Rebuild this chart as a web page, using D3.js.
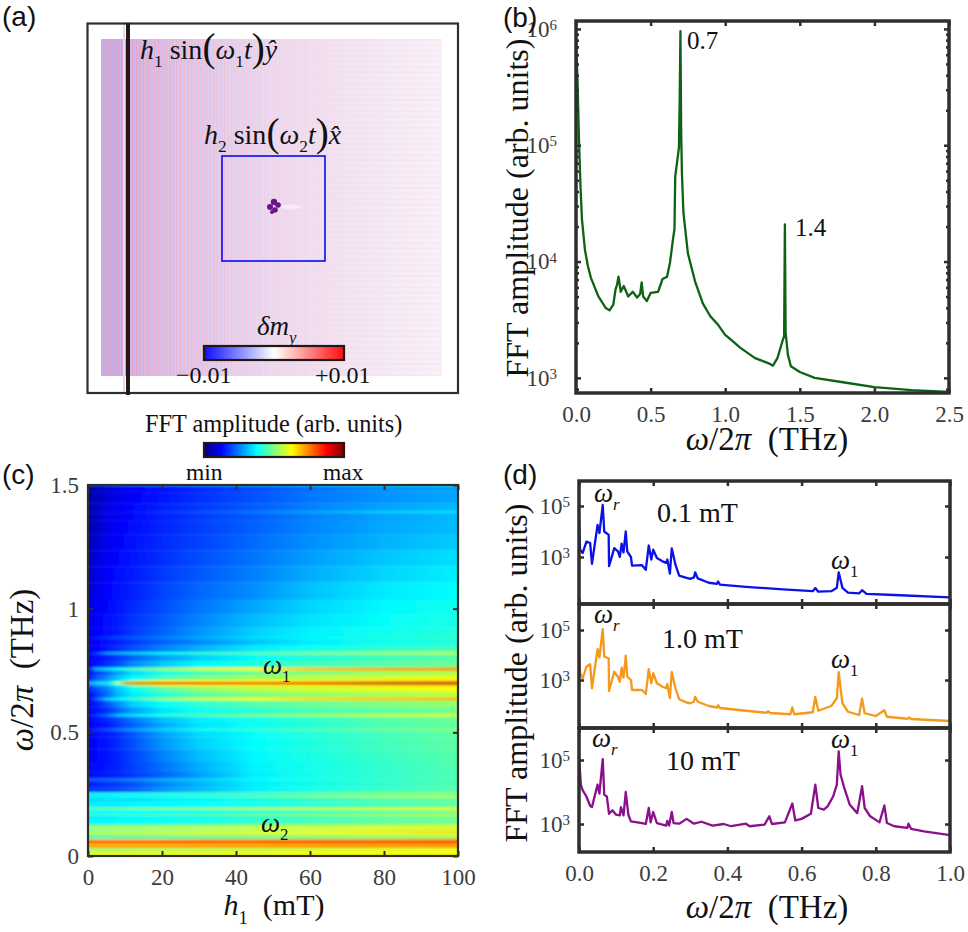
<!DOCTYPE html>
<html>
<head>
<meta charset="utf-8">
<script src="https://cdn.jsdelivr.net/npm/d3@7"></script>
<style>
  html, body { margin: 0; padding: 0; background: #fff; }
  svg { display: block; }
  text { font-family: "Liberation Serif", serif; fill: #111; }
  .tick text { fill: #3c3c3c; }
  .panel-label { font-family: "Liberation Sans", sans-serif; font-size: 28px; }
</style>
</head>
<body>
<svg id="chart" width="968" height="932"></svg>
<script>
// panel (b): spectrum, amplitude kept as log10
var bFreq = [0,0.01,0.02,0.03,0.04,0.06,0.08,0.1,0.15,0.2,0.225,0.25,0.265,0.275,0.285,0.3,0.32,0.35,0.38,0.41,0.43,0.44,0.45,0.475,0.5,0.55,0.58,0.61,0.63,0.65,0.66,0.665,0.68,0.69,0.695,0.7,0.705,0.71,0.72,0.75,0.8,0.85,0.9,0.95,1,1.05,1.1,1.2,1.3,1.32,1.35,1.38,1.395,1.4,1.405,1.42,1.44,1.5,1.6,1.8,2,2.25,2.5];
var bLogAmp = [5.91,5.56,5.05,4.65,4.36,4.1,3.96,3.86,3.7,3.6,3.58,3.63,3.76,3.8,3.87,3.74,3.79,3.7,3.74,3.69,3.72,3.82,3.7,3.66,3.73,3.74,3.85,3.87,3.99,4.19,4.28,4.73,4.88,4.98,5.39,5.98,5.1,4.76,4.42,4.07,3.82,3.64,3.53,3.46,3.37,3.315,3.26,3.17,3.12,3.105,3.17,3.3,3.36,4.32,3.39,3.2,3.1,3.05,3,2.96,2.92,2.895,2.88];

// panel (d): three drive strengths, amplitude kept as log10
var dFreqLow = [0,0.003,0.01,0.02,0.03,0.035,0.05,0.055,0.064,0.068,0.08,0.081,0.095,0.105,0.11,0.115,0.12,0.126,0.13,0.14,0.143,0.17,0.18,0.188,0.195,0.2,0.21,0.225,0.235,0.238,0.245,0.25,0.26,0.27,0.29,0.3,0.31,0.313,0.32,0.35,0.372,0.375,0.38,0.45,0.55,0.63,0.637,0.645,0.68,0.695,0.7,0.71,0.725,0.755,0.763,0.775,0.85,1];
var dLogAmpLow = [4.45,3.29,3.16,3.6,3.55,2.73,4.26,3.94,5.04,4,3.87,2.64,3.35,3.22,3,3.52,3.18,4,3.22,3,2.66,2.68,2.5,3.45,2.9,3.29,2.96,2.83,2.77,2.9,2.35,3.34,2.7,2.27,2.18,2.14,2.2,2.4,2.16,1.99,1.95,2.04,1.92,1.83,1.73,1.66,1.78,1.64,1.66,1.79,2.4,1.79,1.6,1.57,1.7,1.55,1.51,1.42];

var dFreqMid = [0,0.003,0.01,0.02,0.03,0.035,0.05,0.055,0.064,0.068,0.08,0.081,0.095,0.105,0.11,0.115,0.12,0.126,0.13,0.14,0.143,0.17,0.18,0.188,0.195,0.2,0.21,0.225,0.235,0.238,0.245,0.25,0.26,0.27,0.29,0.3,0.31,0.313,0.32,0.35,0.372,0.375,0.38,0.45,0.505,0.51,0.515,0.57,0.575,0.58,0.63,0.637,0.645,0.68,0.695,0.7,0.71,0.725,0.755,0.763,0.77,0.8,0.823,0.83,0.885,0.89,0.895,1];
var dLogAmpMid = [4.47,3.27,3.07,3.53,3.63,2.67,4.23,3.9,5.03,3.93,3.87,2.56,3.33,3.13,2.93,3.49,3.1,3.97,3.13,3,2.6,2.6,2.44,3.43,2.87,3.27,2.87,2.73,2.67,2.84,2.28,3.32,2.67,2.23,2.1,2.07,2.13,2.33,2.13,1.96,1.9,1.99,1.88,1.77,1.69,1.75,1.68,1.63,1.91,1.63,1.71,2.32,1.77,1.96,2.27,3.31,2.07,1.73,1.6,2.25,1.67,1.56,1.79,1.53,1.45,1.5,1.44,1.36];

var dFreqHigh = [0,0.005,0.01,0.02,0.03,0.035,0.05,0.055,0.064,0.068,0.075,0.081,0.09,0.1,0.11,0.113,0.12,0.126,0.133,0.14,0.17,0.18,0.188,0.193,0.2,0.21,0.225,0.235,0.238,0.243,0.25,0.255,0.27,0.29,0.31,0.33,0.36,0.39,0.41,0.45,0.46,0.5,0.513,0.52,0.555,0.575,0.583,0.6,0.625,0.637,0.645,0.66,0.67,0.685,0.695,0.7,0.705,0.715,0.73,0.75,0.763,0.77,0.785,0.81,0.823,0.83,0.85,0.885,0.888,0.895,0.93,1];
var dLogAmpHigh = [5.09,4.23,4.05,3.86,3.57,3.53,4.23,3.95,5.03,3.92,3.86,3.32,3.43,3.29,3.27,3.53,3.27,4,3.29,3.08,3.03,3,3.5,3.05,3.375,3.03,2.98,2.95,3.1,2.95,3.375,3.03,3.01,3.16,3.01,3.07,2.95,3,2.93,3.01,2.93,2.98,3.24,3,3.05,3.64,3.11,3.16,3.32,4.23,3.5,3.45,3.55,3.86,4.23,5.27,4.54,4.13,3.6,3.34,4.18,3.5,3.24,3.05,3.58,3.03,2.93,2.88,3.01,2.85,2.77,2.65];

// panel (c): colour position (0..1 on the jet bar) per frequency row and field column
var heatField = [0,2,5,8,12,20,30,45,60,80,100];
var heatFreq = [1.5,1.49,1.45,1.4,1.39,1.38,1.33,1.27,1.2,1.14,1.07,1,0.95,0.895,0.882,0.87,0.83,0.819,0.808,0.768,0.754,0.742,0.715,0.705,0.697,0.689,0.68,0.645,0.633,0.621,0.58,0.567,0.555,0.52,0.509,0.498,0.46,0.4,0.36,0.32,0.306,0.292,0.26,0.252,0.246,0.239,0.232,0.2,0.19,0.18,0.172,0.165,0.157,0.13,0.122,0.112,0.104,0.095,0.084,0.074,0.063,0.054,0.046,0.036,0.028,0.023,0.016,0.008,0];
var heatValues = [
  [.2,.2,.22,.24,.25,.27,.3,.33,.36,.38,.4],
  [.03,.05,.08,.1,.115,.14,.165,.2,.235,.265,.285],
  [.035,.055,.085,.105,.12,.145,.17,.205,.24,.27,.29],
  [.04,.06,.095,.115,.13,.155,.18,.215,.25,.285,.305],
  [.05,.07,.105,.125,.14,.17,.2,.245,.29,.33,.35],
  [.04,.06,.095,.115,.13,.155,.18,.215,.25,.285,.305],
  [.045,.065,.1,.12,.135,.16,.185,.22,.255,.29,.31],
  [.05,.075,.105,.125,.14,.165,.19,.23,.265,.3,.325],
  [.06,.085,.115,.13,.145,.17,.2,.24,.28,.32,.345],
  [.07,.095,.12,.135,.15,.18,.21,.25,.295,.335,.36],
  [.08,.105,.125,.14,.155,.19,.225,.265,.315,.355,.375],
  [.09,.115,.13,.145,.165,.2,.24,.29,.335,.37,.39],
  [.1,.12,.135,.15,.175,.21,.255,.31,.35,.38,.4],
  [.11,.12,.135,.15,.18,.22,.27,.33,.365,.39,.41],
  [.13,.15,.17,.19,.21,.25,.29,.34,.37,.4,.42],
  [.11,.125,.14,.155,.18,.22,.26,.32,.36,.39,.41],
  [.11,.125,.145,.17,.2,.25,.3,.36,.39,.42,.44],
  [.13,.17,.27,.3,.33,.37,.42,.46,.5,.54,.56],
  [.12,.135,.155,.18,.22,.28,.33,.38,.41,.44,.46],
  [.12,.14,.17,.2,.26,.32,.37,.41,.44,.46,.48],
  [.14,.29,.34,.38,.44,.52,.58,.63,.68,.71,.73],
  [.13,.18,.22,.28,.34,.39,.44,.48,.5,.53,.55],
  [.15,.2,.26,.32,.37,.45,.5,.54,.56,.59,.61],
  [.2,.27,.3,.37,.53,.64,.64,.64,.65,.68,.7],
  [.3,.34,.37,.6,.86,.9,.9,.9,.92,.95,.97],
  [.2,.26,.3,.37,.53,.64,.64,.64,.65,.68,.7],
  [.16,.2,.25,.32,.38,.46,.52,.56,.58,.6,.62],
  [.13,.17,.23,.3,.36,.41,.46,.5,.52,.54,.56],
  [.12,.21,.33,.37,.42,.52,.58,.62,.66,.68,.7],
  [.12,.15,.2,.26,.33,.38,.42,.46,.48,.5,.52],
  [.12,.14,.17,.22,.28,.35,.39,.42,.45,.47,.49],
  [.14,.18,.23,.31,.35,.41,.45,.49,.52,.56,.58],
  [.125,.14,.16,.19,.24,.31,.36,.39,.42,.46,.48],
  [.125,.135,.15,.18,.22,.29,.35,.385,.41,.45,.47],
  [.13,.16,.19,.23,.27,.33,.38,.42,.45,.48,.5],
  [.125,.135,.15,.17,.21,.28,.34,.38,.41,.44,.47],
  [.125,.13,.145,.165,.2,.27,.33,.375,.405,.44,.465],
  [.125,.13,.14,.16,.19,.25,.31,.37,.4,.43,.46],
  [.13,.135,.145,.16,.185,.235,.295,.365,.395,.425,.455],
  [.13,.14,.15,.16,.18,.22,.28,.36,.39,.42,.45],
  [.2,.21,.22,.23,.25,.29,.32,.37,.4,.43,.45],
  [.15,.16,.17,.18,.2,.25,.3,.36,.39,.42,.45],
  [.17,.18,.19,.2,.22,.27,.31,.36,.4,.44,.46],
  [.4,.4,.4,.41,.41,.42,.43,.45,.47,.49,.51],
  [.35,.35,.35,.36,.36,.37,.38,.41,.44,.47,.49],
  [.38,.38,.38,.39,.4,.41,.43,.47,.52,.56,.58],
  [.34,.34,.35,.35,.35,.36,.37,.39,.42,.45,.47],
  [.36,.36,.36,.36,.37,.37,.38,.4,.42,.45,.47],
  [.47,.47,.47,.48,.49,.5,.51,.54,.56,.58,.6],
  [.37,.37,.37,.38,.38,.39,.4,.42,.45,.48,.5],
  [.37,.37,.37,.38,.38,.39,.4,.42,.44,.47,.49],
  [.43,.43,.43,.44,.44,.45,.46,.49,.51,.53,.55],
  [.36,.36,.36,.37,.37,.38,.39,.42,.44,.47,.49],
  [.37,.37,.38,.38,.38,.39,.4,.43,.45,.47,.48],
  [.47,.47,.47,.48,.48,.49,.5,.52,.53,.55,.57],
  [.58,.58,.58,.58,.58,.59,.6,.61,.62,.63,.64],
  [.45,.45,.46,.46,.47,.48,.49,.51,.53,.55,.56],
  [.57,.57,.57,.58,.58,.59,.6,.61,.62,.64,.66],
  [.5,.5,.5,.51,.51,.52,.53,.54,.55,.56,.57],
  [.42,.42,.42,.43,.43,.44,.45,.46,.48,.5,.52],
  [.7,.7,.7,.7,.7,.7,.71,.71,.72,.72,.73],
  [.87,.87,.87,.87,.87,.87,.87,.87,.87,.88,.88],
  [.68,.68,.68,.68,.68,.68,.69,.69,.7,.7,.71],
  [.74,.74,.74,.74,.74,.74,.74,.74,.74,.74,.74],
  [.58,.58,.58,.58,.58,.59,.59,.6,.6,.61,.62],
  [.47,.47,.47,.48,.48,.49,.5,.52,.54,.56,.57],
  [.58,.58,.58,.58,.59,.59,.6,.6,.61,.61,.62],
  [.6,.6,.6,.6,.6,.6,.61,.61,.62,.62,.63],
  [.62,.62,.62,.62,.62,.62,.63,.63,.63,.64,.64]
];

// colour bar stops
var jetStops = [0,0.125,0.375,0.625,0.875,1];
var jetColors = ["#000080","#0000ff","#00ffff","#ffff00","#ff0000","#800000"];
var divergingStops = [0,0.5,1];
var divergingColors = ["#0d0dff","#ffffff","#ff0d0d"];

// tick labels
var bFreqTicks = [0,0.5,1,1.5,2,2.5];
var bAmpTicks = [1e3,1e4,1e5,1e6];
var cFieldTicks = [0,20,40,60,80,100];
var cFreqTicks = [0,0.5,1,1.5];
var dFreqTicks = [0,0.2,0.4,0.6,0.8,1];
var dAmpTicks = [1e3,1e5];

var svg = d3.select("#chart");
var defs = svg.append("defs");
var axisColor = "#2e2e2e";
var jet = d3.scaleLinear().domain(jetStops).range(jetColors);

// draws a run of [text, style] pieces as tspans; style: i italic, s sub, L large bracket
function mathText(x, y, size, parts, rotate) {
  var t = svg.append("text").attr("font-size", size).attr("xml:space", "preserve");
  if (rotate) {
    t.attr("transform", "translate(" + x + "," + y + ") rotate(-90)").attr("text-anchor", "middle");
  } else {
    t.attr("x", x).attr("y", y);
  }
  var shift = 0;
  parts.forEach(function(p) {
    var style = p[1] || "";
    var sub = style.indexOf("s") >= 0;
    var large = style.indexOf("L") >= 0;
    var target = sub ? size * 0.3 : (large ? size * 0.08 : 0);
    t.append("tspan")
      .attr("dy", target - shift)
      .attr("font-style", style.indexOf("i") >= 0 ? "italic" : "normal")
      .attr("font-size", sub ? size * 0.62 : (large ? size * 1.4 : size))
      .text(p[0]);
    shift = target;
  });
  return t;
}

function panelLabel(x, y, name) {
  svg.append("text").attr("class", "panel-label").attr("x", x).attr("y", y).text(name);
}

function addGradient(id, stops, colors) {
  var g = defs.append("linearGradient").attr("id", id);
  stops.forEach(function(s, i) {
    g.append("stop").attr("offset", s).attr("stop-color", colors[i]);
  });
}

function addClip(id, x, y) {
  defs.append("clipPath").attr("id", id).append("rect")
    .attr("x", x.range()[0]).attr("y", y.range()[1])
    .attr("width", x.range()[1] - x.range()[0])
    .attr("height", y.range()[0] - y.range()[1]);
}

// power-of-ten labels for a log axis
function powerLabels(g) {
  g.selectAll(".tick text").each(function(d) {
    var t = d3.select(this);
    t.text("10");
    t.append("tspan").attr("dy", "-0.45em").attr("font-size", 15).text(Math.round(Math.log10(d)));
  });
}

// box with inward ticks on all four sides
function drawFrame(x, yTop, yBottom, opt) {
  var left = x.range()[0], right = x.range()[1];
  var y = opt.y;
  var len = opt.tickLen || 5;
  var groups = [];
  var bottom = d3.axisBottom(x).tickValues(opt.xTicks).tickSize(-len).tickPadding(opt.xPad || 0);
  if (opt.xFormat) bottom.tickFormat(opt.xFormat); else bottom.tickFormat("");
  groups.push(svg.append("g").attr("transform", "translate(0," + yBottom + ")").call(bottom));
  groups.push(svg.append("g").attr("transform", "translate(0," + yTop + ")")
    .call(d3.axisTop(x).tickValues(opt.xTicks).tickSize(-len).tickFormat("")));
  var leftAxis = d3.axisLeft(y).tickValues(opt.yTicks).tickSize(-len).tickPadding(opt.yPad || 9);
  leftAxis.tickFormat(opt.yFormat || "");
  var leftG = svg.append("g").attr("transform", "translate(" + left + ",0)").call(leftAxis);
  groups.push(leftG);
  groups.push(svg.append("g").attr("transform", "translate(" + right + ",0)")
    .call(d3.axisRight(y).tickValues(opt.yTicks).tickSize(-len).tickFormat("")));
  if (opt.yMinor) {
    groups.push(svg.append("g").attr("transform", "translate(" + left + ",0)")
      .call(d3.axisLeft(y).tickValues(opt.yMinor).tickSize(-3).tickFormat("")));
    groups.push(svg.append("g").attr("transform", "translate(" + right + ",0)")
      .call(d3.axisRight(y).tickValues(opt.yMinor).tickSize(-3).tickFormat("")));
  }
  groups.forEach(function(g) {
    g.select(".domain").remove();
    g.selectAll("line").attr("stroke", axisColor).attr("stroke-width", opt.tickWidth || 2);
    g.selectAll("text").attr("font-size", 23).attr("font-family", "Liberation Serif");
  });
  if (opt.powers) powerLabels(leftG);
  svg.append("rect").attr("x", left).attr("y", yTop)
    .attr("width", right - left).attr("height", yBottom - yTop)
    .attr("fill", "none").attr("stroke", axisColor).attr("stroke-width", opt.frameWidth || 2.5);
}

function drawSpectrum(freq, logAmp, x, y, color, clipId, width) {
  var line = d3.line()
    .x(function(d) { return x(d[0]); })
    .y(function(d) { return y(Math.pow(10, d[1])); });
  svg.append("path")
    .datum(d3.zip(freq, logAmp))
    .attr("clip-path", "url(#" + clipId + ")")
    .attr("fill", "none").attr("stroke", color)
    .attr("stroke-width", width).attr("stroke-linejoin", "round")
    .attr("d", line);
}

function drawColorBar(x0, x1, y0, y1, gradId) {
  svg.append("rect").attr("x", x0).attr("y", y0)
    .attr("width", x1 - x0).attr("height", y1 - y0)
    .attr("fill", "url(#" + gradId + ")")
    .attr("stroke", "#231815").attr("stroke-width", 2.2);
}

/* ---------- panel a ---------- */
function drawPanelA() {
  var fieldX = d3.scaleLinear().domain([0, 1]).range([101, 442]);
  var fieldY = d3.scaleLinear().domain([0, 1]).range([39, 376]);

  var fade = defs.append("linearGradient").attr("id", "fieldFade")
    .attr("gradientUnits", "userSpaceOnUse").attr("x1", 101).attr("x2", 442);
  [[0, 1], [0.08, 1], [0.16, 0.85], [0.3, 0.68], [0.5, 0.48], [0.75, 0.3], [1, 0.16]].forEach(function(s) {
    fade.append("stop").attr("offset", s[0]).attr("stop-color", "#fff").attr("stop-opacity", s[1]);
  });
  defs.append("mask").attr("id", "fieldMask").attr("maskUnits", "userSpaceOnUse")
    .attr("x", 90).attr("y", 30).attr("width", 360).attr("height", 355)
    .append("rect").attr("x", 90).attr("y", 30).attr("width", 360).attr("height", 355)
    .attr("fill", "url(#fieldFade)");

  var stripes = defs.append("pattern").attr("id", "vStripes").attr("patternUnits", "userSpaceOnUse")
    .attr("width", 3.67).attr("height", 10);
  stripes.append("rect").attr("width", 3.67).attr("height", 10).attr("fill", "#ead2ea");
  stripes.append("rect").attr("width", 1.5).attr("height", 10).attr("fill", "#e999bb");
  stripes.append("rect").attr("x", 2.0).attr("width", 1.3).attr("height", 10).attr("fill", "#b9aaf0");

  var rows = defs.append("pattern").attr("id", "hStripes").attr("patternUnits", "userSpaceOnUse")
    .attr("width", 10).attr("height", 5.5);
  rows.append("rect").attr("width", 10).attr("height", 2).attr("fill", "#f6d5e5").attr("opacity", 0.3);

  defs.append("filter").attr("id", "soft").attr("x", "-5%").attr("y", "-5%").attr("width", "110%").attr("height", "110%")
    .append("feGaussianBlur").attr("stdDeviation", 0.5);

  var field = svg.append("g").attr("filter", "url(#soft)");
  field.append("g").attr("mask", "url(#fieldMask)").append("rect")
    .attr("x", fieldX(0)).attr("y", fieldY(0))
    .attr("width", fieldX(1) - fieldX(0)).attr("height", fieldY(1) - fieldY(0))
    .attr("fill", "url(#vStripes)");
  field.append("rect").attr("x", fieldX(0)).attr("y", fieldY(0))
    .attr("width", 26).attr("height", fieldY(1) - fieldY(0))
    .attr("fill", "#b9a6e6").attr("opacity", 0.3);
  field.append("rect").attr("x", fieldX(0.5)).attr("y", fieldY(0))
    .attr("width", fieldX(1) - fieldX(0.5)).attr("height", fieldY(1) - fieldY(0))
    .attr("fill", "url(#hStripes)");

  svg.append("line").attr("x1", 124).attr("x2", 124).attr("y1", 24).attr("y2", 392)
    .attr("stroke", "#e9d7ee").attr("stroke-width", 2);

  // the driven spot at the centre of the blue square
  svg.append("ellipse").attr("cx", 291).attr("cy", 207).attr("rx", 10).attr("ry", 2.5)
    .attr("fill", "#fff").attr("opacity", 0.45).attr("filter", "url(#soft)");
  [[270, 207, 3], [274, 202, 3.2], [278, 205, 2.8], [275, 210, 2.8], [272, 212, 2]].forEach(function(b) {
    svg.append("circle").attr("cx", b[0]).attr("cy", b[1]).attr("r", b[2]).attr("fill", "#6a1488");
  });

  svg.append("rect").attr("x", 222).attr("y", 156).attr("width", 103).attr("height", 105)
    .attr("fill", "none").attr("stroke", "#0a0aee").attr("stroke-width", 1.6);
  svg.append("rect").attr("x", 87.5).attr("y", 23.5).attr("width", 370.5).attr("height", 369.5)
    .attr("fill", "none").attr("stroke", axisColor).attr("stroke-width", 2.2);
  svg.append("line").attr("x1", 128).attr("x2", 128).attr("y1", 23).attr("y2", 395)
    .attr("stroke", "#231815").attr("stroke-width", 4);

  mathText(140, 59, 28, [["h", "i"], ["1", "s"], [" sin", ""], ["(", "L"], ["ω", "i"], ["1", "s"], ["t", "i"], [")", "L"], ["ŷ", "i"]]);
  mathText(204, 144, 28, [["h", "i"], ["2", "s"], [" sin", ""], ["(", "L"], ["ω", "i"], ["2", "s"], ["t", "i"], [")", "L"], ["x̂", "i"]]);
  mathText(257, 335, 27, [["δm", "i"], ["y", "is"]]);

  addGradient("divergingBar", divergingStops, divergingColors);
  drawColorBar(204, 344, 346, 360, "divergingBar");
  mathText(176, 383, 24, [["−0.01", ""]]);
  mathText(315, 383, 24, [["+0.01", ""]]);

  mathText(145, 432, 24.3, [["FFT amplitude (arb. units)", ""]]);
  addGradient("jetBar", jetStops, jetColors);
  drawColorBar(204, 344, 443, 457, "jetBar");
  mathText(186, 480, 23.5, [["min", ""]]);
  mathText(323, 480, 23.5, [["max", ""]]);
}

/* ---------- panel b ---------- */
function drawPanelB() {
  var x = d3.scaleLinear().domain([0, 2.5]).range([576, 949]);
  var y = d3.scaleLog().domain([741, 1.17e6]).range([393, 21]);
  var minor = [];
  [1e3, 1e4, 1e5].forEach(function(decade) {
    [2, 3, 4, 5, 6, 7, 8, 9].forEach(function(m) { minor.push(m * decade); });
  });
  minor.push(800);
  addClip("clipB", x, y);
  drawSpectrum(bFreq, bLogAmp, x, y, "#0d6214", "clipB", 2.3);
  drawFrame(x, 21, 393, {
    y: y, xTicks: bFreqTicks, yTicks: bAmpTicks, yMinor: minor, xPad: 13, yPad: 19,
    xFormat: d3.format(".1f"), yFormat: function(d) { return d; }, powers: true,
    frameWidth: 3.5, tickWidth: 2.5
  });
  mathText(687, 49, 25, [["0.7", ""]]);
  mathText(795, 236, 25, [["1.4", ""]]);
  mathText(528, 208, 32, [["FFT amplitude (arb. units)", ""]], true);
  mathText(767, 450, 33, [["ω", "i"], ["/2", ""], ["π", "i"], ["  (THz)", ""]]).attr("text-anchor", "middle");
}

/* ---------- panel c ---------- */
function drawPanelC() {
  var x = d3.scaleLinear().domain([0, 100]).range([88, 458]);
  var y = d3.scaleLinear().domain([0, 1.5]).range([856, 485]);
  addClip("clipC", x, y);
  defs.append("filter").attr("id", "rowBlur").attr("filterUnits", "userSpaceOnUse")
    .attr("x", 70).attr("y", 470).attr("width", 400).attr("height", 400)
    .append("feGaussianBlur").attr("stdDeviation", "0 0.9");

  heatValues.forEach(function(row, i) {
    var g = defs.append("linearGradient").attr("id", "heatRow" + i);
    row.forEach(function(v, j) {
      g.append("stop").attr("offset", x(heatField[j]) / 370 - 88 / 370).attr("stop-color", jet(v));
    });
  });

  var rowsG = svg.append("g").attr("clip-path", "url(#clipC)").append("g").attr("filter", "url(#rowBlur)");
  rowsG.selectAll("rect").data(heatFreq).join("rect")
    .attr("x", x(0)).attr("width", x(100) - x(0))
    .attr("y", function(f, i) {
      return i === 0 ? y(f) - 6 : y((f + heatFreq[i - 1]) / 2) - 0.3;
    })
    .attr("height", function(f, i) {
      var top = i === 0 ? y(f) - 6 : y((f + heatFreq[i - 1]) / 2) - 0.3;
      var bottom = i === heatFreq.length - 1 ? y(f) + 6 : y((f + heatFreq[i + 1]) / 2);
      return bottom - top;
    })
    .attr("fill", function(f, i) { return "url(#heatRow" + i + ")"; });

  drawFrame(x, 485, 856, {
    y: y, xTicks: cFieldTicks, yTicks: cFreqTicks, xPad: 13, yPad: 9,
    xFormat: function(d) { return d; },
    yFormat: function(d) { return d; }, frameWidth: 2.2
  });
  mathText(263, 674, 27, [["ω", "i"], ["1", "s"]]);
  mathText(261, 832, 27, [["ω", "i"], ["2", "s"]]);
  mathText(33, 670, 33, [["ω", "i"], ["/2", ""], ["π", "i"], ["  (THz)", ""]], true);
  mathText(274, 915, 30, [["h", "i"], ["1", "s"], ["  (mT)", ""]]).attr("text-anchor", "middle");
}

/* ---------- panel d ---------- */
function drawPanelD() {
  var x = d3.scaleLinear().domain([0, 1]).range([579, 950]);
  var subs = [
    { top: 481, bottom: 604, y3: 557, y5: 506, freq: dFreqLow, amp: dLogAmpLow, color: "#0a12e8", id: "clipD1",
      title: "0.1 mT", titleX: 657, titleY: 522, rX: 594, rY: 502, oneY: 569 },
    { top: 604, bottom: 728, y3: 680, y5: 630, freq: dFreqMid, amp: dLogAmpMid, color: "#f6981c", id: "clipD2",
      title: "1.0 mT", titleX: 662, titleY: 648, rX: 594, rY: 623, oneY: 668 },
    { top: 728, bottom: 852, y3: 824, y5: 760, freq: dFreqHigh, amp: dLogAmpHigh, color: "#8c0f8c", id: "clipD3",
      title: "10 mT", titleX: 666, titleY: 770, rX: 592, rY: 747, oneY: 748 }
  ];
  subs.forEach(function(s, i) {
    var y = d3.scaleLog().domain([1e3, 1e5]).range([s.y3, s.y5]);
    var yFrame = y.copy().domain([y.invert(s.bottom), y.invert(s.top)]).range([s.bottom, s.top]);
    addClip(s.id, x, yFrame);
    drawSpectrum(s.freq, s.amp, x, yFrame, s.color, s.id, 2.3);
    drawFrame(x, s.top, s.bottom, {
      y: yFrame, xTicks: dFreqTicks, yTicks: dAmpTicks, yPad: 9, xPad: 13,
      xFormat: i === 2 ? d3.format(".1f") : null,
      yFormat: function(d) { return d; }, powers: true, frameWidth: 3.5, tickWidth: 2.5
    });
    mathText(s.titleX, s.titleY, 28, [[s.title, ""]]);
    mathText(s.rX, s.rY, 27, [["ω", "i"], ["r", "is"]]);
    mathText(831, s.oneY, 27, [["ω", "i"], ["1", "s"]]);
  });
  mathText(527, 673, 32, [["FFT amplitude (arb. units)", ""]], true);
  mathText(767, 918, 33, [["ω", "i"], ["/2", ""], ["π", "i"], ["  (THz)", ""]]).attr("text-anchor", "middle");
}

drawPanelA();
drawPanelB();
drawPanelC();
drawPanelD();

panelLabel(2, 26, "(a)");
panelLabel(503, 27, "(b)");
panelLabel(2, 484, "(c)");
panelLabel(503, 484, "(d)");
</script>
</body>
</html>
